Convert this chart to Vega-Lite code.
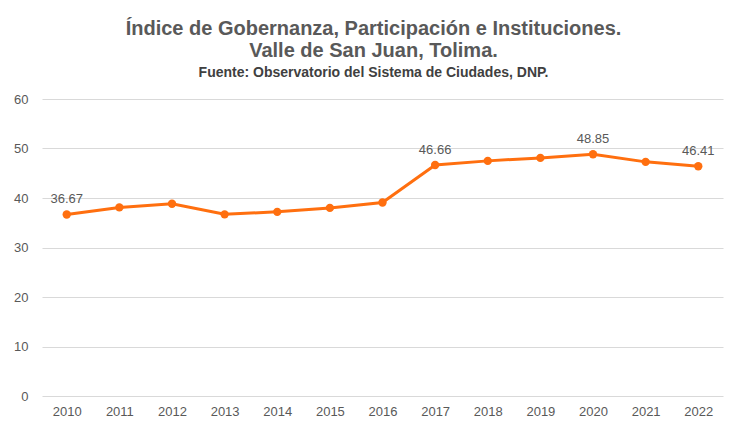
{
  "$schema": "https://vega.github.io/schema/vega-lite/v6.json",
  "autosize": "none",
  "width": 681,
  "height": 297,
  "padding": {"left": 42, "top": 99, "right": 12, "bottom": 31},
  "background": "white",
  "title": {
    "text": ["Índice de Gobernanza, Participación e Instituciones.", "Valle de San Juan, Tolima."],
    "subtitle": "Fuente: Observatorio del Sistema de Ciudades, DNP.",
    "anchor": "middle",
    "dx": -9,
    "font": "Liberation Sans",
    "fontSize": 20,
    "fontWeight": "bold",
    "color": "#595959",
    "lineHeight": 22,
    "subtitleFont": "Liberation Sans",
    "subtitleFontSize": 14,
    "subtitleFontWeight": "bold",
    "subtitleColor": "#404040",
    "subtitlePadding": 5,
    "offset": 13
  },
  "data": {
    "values": [
      {"year": "2010", "value": 36.67, "label": "36.67"},
      {"year": "2011", "value": 38.1, "label": ""},
      {"year": "2012", "value": 38.85, "label": ""},
      {"year": "2013", "value": 36.7, "label": ""},
      {"year": "2014", "value": 37.2, "label": ""},
      {"year": "2015", "value": 38.0, "label": ""},
      {"year": "2016", "value": 39.1, "label": ""},
      {"year": "2017", "value": 46.66, "label": "46.66"},
      {"year": "2018", "value": 47.5, "label": ""},
      {"year": "2019", "value": 48.1, "label": ""},
      {"year": "2020", "value": 48.85, "label": "48.85"},
      {"year": "2021", "value": 47.3, "label": ""},
      {"year": "2022", "value": 46.41, "label": "46.41"}
    ]
  },
  "encoding": {
    "x": {
      "field": "year",
      "type": "ordinal",
      "scale": {"type": "point", "padding": 0.47},
      "axis": {
        "title": null,
        "labelAngle": 0,
        "domain": false,
        "ticks": false,
        "grid": false,
        "labelFont": "Liberation Sans",
        "labelFontSize": 13,
        "labelColor": "#595959",
        "labelPadding": 9
      }
    },
    "y": {
      "field": "value",
      "type": "quantitative",
      "scale": {"domain": [0, 60]},
      "axis": {
        "title": null,
        "values": [0, 10, 20, 30, 40, 50, 60],
        "domain": false,
        "ticks": false,
        "grid": true,
        "gridColor": "#d9d9d9",
        "gridWidth": 1,
        "labelFont": "Liberation Sans",
        "labelFontSize": 13,
        "labelColor": "#595959",
        "labelPadding": 14
      }
    }
  },
  "layer": [
    {
      "mark": {"type": "line", "color": "#FF6F0F", "strokeWidth": 3, "point": {"filled": true, "size": 70, "color": "#FF6F0F"}}
    },
    {
      "mark": {"type": "text", "baseline": "bottom", "dy": -8, "font": "Liberation Sans", "fontSize": 13, "color": "#595959"},
      "encoding": {"text": {"field": "label"}}
    }
  ],
  "config": {"view": {"stroke": null}}
}
